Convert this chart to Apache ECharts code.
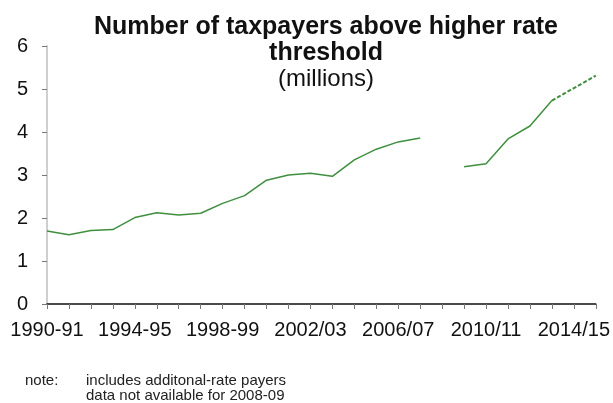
<!DOCTYPE html>
<html>
<head>
<meta charset="utf-8">
<script src="https://cdn.jsdelivr.net/npm/echarts@6/dist/echarts.min.js"></script>
<style>
  html, body { margin: 0; padding: 0; background: #fff; }
  #chart { width: 613px; height: 403px; }
</style>
</head>
<body>
<div id="chart"></div>
<script>
// Tax years shown on the horizontal axis
const years = [
  '1990-91', '1991-92', '1992-93', '1993-94', '1994-95', '1995-96',
  '1996-97', '1997-98', '1998-99', '1999-00', '2000-01', '2001-02',
  '2002/03', '2003/04', '2004/05', '2005/06', '2006/07', '2007/08',
  '2008/09', '2009/10', '2010/11', '2011/12', '2012/13', '2013/14',
  '2014/15', '2015/16'
];

// Higher-rate taxpayers, millions (no figure for 2008-09)
const outturn = [
  1.70, 1.61, 1.71, 1.73, 2.01, 2.12, 2.07, 2.11, 2.34, 2.52, 2.88, 3.00,
  3.04, 2.97, 3.35, 3.60, 3.77, 3.86, null, 3.19, 3.26, 3.84, 4.14, 4.73,
  null, null
];

// Projected figures, drawn dashed
const projection = [
  null, null, null, null, null, null, null, null, null, null, null, null,
  null, null, null, null, null, null, null, null, null, null, null, 4.73,
  5.02, 5.31
];

const yTicks = [0, 1, 2, 3, 4, 5, 6];

const noteLines = ['includes additonal-rate payers', 'data not available for 2008-09'];

const chart = echarts.init(document.getElementById('chart'));
const font = '"Liberation Sans", Arial, sans-serif';
const green = '#3f8f3f';

chart.setOption({
  animation: false,
  backgroundColor: '#fff',
  title: {
    text: 'Number of taxpayers above higher rate\nthreshold',
    subtext: '(millions)',
    left: 321,
    top: 9,
    textAlign: 'center',
    itemGap: 1,
    textStyle: {
      fontFamily: font, fontSize: 25, fontWeight: 'bold',
      color: '#111', lineHeight: 26
    },
    subtextStyle: {
      fontFamily: font, fontSize: 24, color: '#111', lineHeight: 24
    }
  },
  grid: { left: 47, right: 16, top: 46, bottom: 99 },
  xAxis: {
    type: 'category',
    data: years,
    boundaryGap: false,
    axisLine: { lineStyle: { color: '#111', width: 1.5 } },
    axisTick: { interval: 0, length: 5, lineStyle: { color: '#777' } },
    axisLabel: {
      interval: 3, margin: 16,
      fontFamily: font, fontSize: 20, color: '#111'
    },
    splitLine: { show: false }
  },
  yAxis: {
    type: 'value',
    min: yTicks[0],
    max: yTicks[yTicks.length - 1],
    interval: 1,
    axisLine: { show: true, lineStyle: { color: '#cfcfcf', width: 2 } },
    axisTick: { show: true, length: 5, lineStyle: { color: '#777' } },
    axisLabel: { margin: 19, fontFamily: font, fontSize: 20, color: '#111' },
    splitLine: { show: false }
  },
  series: [
    {
      type: 'line',
      data: outturn,
      showSymbol: false,
      connectNulls: false,
      lineStyle: { color: green, width: 1.5 },
      z: 3
    },
    {
      type: 'line',
      data: projection,
      showSymbol: false,
      connectNulls: false,
      lineStyle: { color: green, width: 2, type: [4, 2] },
      z: 3
    }
  ],
  graphic: [
    {
      type: 'text', left: 25, top: 373,
      style: { text: 'note:', fontFamily: font, fontSize: 15, fill: '#222' }
    },
    {
      type: 'text', left: 86, top: 373,
      style: {
        text: noteLines.join('\n'), fontFamily: font, fontSize: 15,
        lineHeight: 15, fill: '#222'
      }
    }
  ]
});
</script>
</body>
</html>
